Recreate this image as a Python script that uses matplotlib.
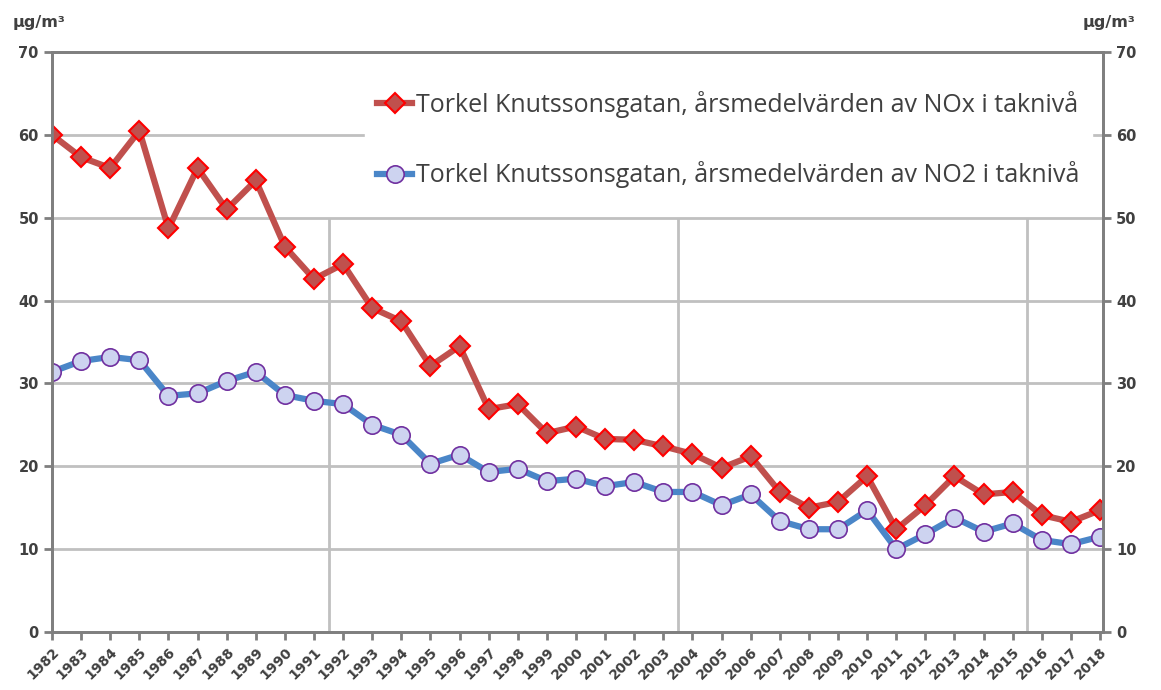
import matplotlib

matplotlib.use("Agg")
import matplotlib.pyplot as plt
import numpy as np

years = np.arange(1982, 2019)
nox = [60.0, 57.3, 56.0, 60.5, 48.7, 56.0, 51.0, 54.5, 46.5, 42.6, 44.4, 39.1,
       37.5, 32.1, 34.5, 26.9, 27.5, 24.0, 24.8, 23.3, 23.2, 22.4, 21.5, 19.8,
       21.2, 16.9, 15.0, 15.7, 18.8, 12.4, 15.3, 18.8, 16.6, 16.9, 14.1, 13.3,
       14.7]
no2 = [31.4, 32.7, 33.2, 32.8, 28.5, 28.8, 30.3, 31.4, 28.6, 27.9, 27.5, 25.0,
       23.8, 20.3, 21.4, 19.3, 19.7, 18.2, 18.5, 17.6, 18.1, 16.9, 16.9, 15.3,
       16.6, 13.4, 12.4, 12.4, 14.7, 10.0, 11.8, 13.8, 12.1, 13.1, 11.1, 10.6,
       11.5]
separators = [1991.5, 2003.5, 2015.5]
label_nox = "Torkel Knutssonsgatan, årsmedelvärden av NOx i taknivå"
label_no2 = "Torkel Knutssonsgatan, årsmedelvärden av NO2 i taknivå"
unit = "µg/m³"

AXC = "#7f7f7f"
TXT = "#404040"
GRID = "#c0c0c0"

fig = plt.figure(figsize=(11.61, 6.9), dpi=100)
ax = fig.add_axes([0.0448, 0.0841, 0.9052, 0.8405])

ax.set_xlim(1982, 2018.1)
ax.set_ylim(0, 70)
ax.set_yticks(np.arange(0, 71, 10))
ax.set_xticks(years)
ax.set_xticklabels([str(y) for y in years], rotation=45, ha="right",
                   rotation_mode="anchor", fontsize=10, fontweight="bold", color=TXT)
for t in ax.get_yticklabels():
    t.set_fontsize(10.5)
    t.set_fontweight("bold")
    t.set_color(TXT)

for y in range(10, 70, 10):
    ax.axhline(y, color=GRID, lw=2, zorder=1)
ax.vlines(separators, 0, 50, color=GRID, lw=2, zorder=1)

for s in ax.spines.values():
    s.set_color(AXC)
    s.set_linewidth(2)
ax.tick_params(axis="both", color=AXC, width=2, length=6, direction="out")

ax.plot(years, nox, color="#c0504d", lw=4.5, marker="D", ms=10.5,
        mfc="#c0504d", mec="#ff0000", mew=1.5, label=label_nox, zorder=3)
ax.plot(years, no2, color="#4a86c8", lw=4.5, marker="o", ms=12.5,
        mfc="#cdd3f0", mec="#7030a0", mew=1.2, label=label_no2, zorder=3)

ax2 = ax.twinx()
ax2.set_ylim(0, 70)
ax2.set_yticks(np.arange(0, 71, 10))
for t in ax2.get_yticklabels():
    t.set_fontsize(10.5)
    t.set_fontweight("bold")
    t.set_color(TXT)
ax2.tick_params(axis="y", color=AXC, width=2, length=6, direction="out")
for s in ax2.spines.values():
    s.set_color(AXC)
    s.set_linewidth(2)

leg = ax.legend(loc="upper right", bbox_to_anchor=(0.9895, 0.955), frameon=True,
                facecolor="white", edgecolor="white", framealpha=1,
                handlelength=1.4, handletextpad=0.15,
                labelspacing=1.75, borderpad=0.5, borderaxespad=0,
                prop={"family": "Open Sans", "size": 18})
for t in leg.get_texts():
    t.set_color(TXT)
leg.set_zorder(5)

fig.text(0.011, 0.968, unit, fontsize=11.5, fontweight="bold", color=TXT,
         ha="left", va="center")
fig.text(0.978, 0.968, unit, fontsize=11.5, fontweight="bold", color=TXT,
         ha="right", va="center")

fig.savefig("out.png", dpi=100)
